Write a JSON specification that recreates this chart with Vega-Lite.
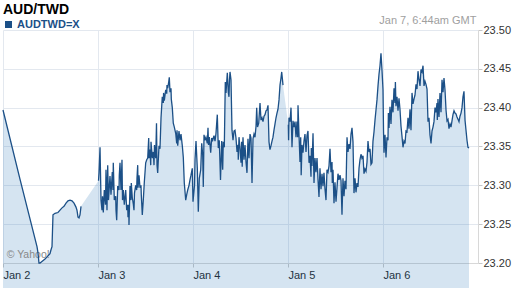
{
"$schema":"https://vega.github.io/schema/vega-lite/v6.json",
"width":475,"height":233,
"autosize":{"type":"none"},
"padding":{"left":3,"top":30,"right":34,"bottom":25},
"background":"white",
"config":{"font":"Liberation Sans","view":{"stroke":null}},
"data":{"values":[
{"h":0,"v":23.397,"s":1},{"h":4.29,"v":23.308,"s":1},{"h":8.59,"v":23.221,"s":1},{"h":8.84,"v":23.213,"s":1},{"h":9.09,"v":23.2,"s":1},{"h":9.35,"v":23.2,"s":1},{"h":9.6,"v":23.201,"s":1},{"h":10.61,"v":23.205,"s":1},{"h":11.87,"v":23.212,"s":1},{"h":12.13,"v":23.217,"s":1},{"h":12.38,"v":23.221,"s":1},{"h":12.63,"v":23.262,"s":1},{"h":13.14,"v":23.264,"s":1},{"h":13.89,"v":23.265,"s":1},{"h":14.4,"v":23.268,"s":1},{"h":14.91,"v":23.271,"s":1},{"h":15.41,"v":23.273,"s":1},{"h":15.92,"v":23.277,"s":1},{"h":16.42,"v":23.28,"s":1},{"h":16.93,"v":23.281,"s":1},{"h":17.43,"v":23.28,"s":1},{"h":17.94,"v":23.277,"s":1},{"h":18.44,"v":23.272,"s":1},{"h":18.69,"v":23.268,"s":1},{"h":18.95,"v":23.259,"s":1},{"h":19.2,"v":23.258,"s":1},{"h":19.45,"v":23.262,"s":1},{"h":19.71,"v":23.273,"s":1},
{"h":24.13,"v":23.306,"s":2},{"h":24.25,"v":23.316,"s":2},{"h":24.51,"v":23.349,"s":2},{"h":24.76,"v":23.281,"s":2},{"h":25.01,"v":23.268,"s":2},{"h":25.14,"v":23.286,"s":2},{"h":25.34,"v":23.265,"s":2},{"h":25.59,"v":23.294,"s":2},{"h":25.89,"v":23.275,"s":2},{"h":26.02,"v":23.32,"s":2},{"h":26.27,"v":23.268,"s":2},{"h":26.45,"v":23.326,"s":2},{"h":26.65,"v":23.281,"s":2},{"h":27.03,"v":23.312,"s":2},{"h":27.28,"v":23.288,"s":2},{"h":27.61,"v":23.317,"s":2},{"h":27.79,"v":23.294,"s":2},{"h":27.86,"v":23.329,"s":2},{"h":28.12,"v":23.281,"s":2},{"h":28.47,"v":23.286,"s":2},{"h":28.55,"v":23.268,"s":2},{"h":28.72,"v":23.255,"s":2},{"h":28.98,"v":23.299,"s":2},{"h":29.31,"v":23.294,"s":2},{"h":29.38,"v":23.313,"s":2},{"h":29.56,"v":23.329,"s":2},{"h":29.81,"v":23.294,"s":2},{"h":30.06,"v":23.333,"s":2},{"h":30.19,"v":23.281,"s":2},{"h":30.39,"v":23.294,"s":2},{"h":30.64,"v":23.275,"s":2},{"h":31.0,"v":23.294,"s":2},{"h":31.25,"v":23.268,"s":2},{"h":31.5,"v":23.275,"s":2},{"h":31.58,"v":23.259,"s":2},{"h":31.76,"v":23.275,"s":2},{"h":31.83,"v":23.249,"s":2},{"h":32.08,"v":23.299,"s":2},{"h":32.34,"v":23.281,"s":2},{"h":32.41,"v":23.303,"s":2},{"h":32.67,"v":23.284,"s":2},{"h":32.92,"v":23.276,"s":2},{"h":33.09,"v":23.268,"s":2},{"h":33.22,"v":23.29,"s":2},{"h":33.52,"v":23.3,"s":2},{"h":33.77,"v":23.294,"s":2},{"h":33.85,"v":23.309,"s":2},{"h":34.03,"v":23.326,"s":2},{"h":34.11,"v":23.297,"s":2},{"h":34.36,"v":23.313,"s":2},{"h":34.61,"v":23.297,"s":2},{"h":34.86,"v":23.3,"s":2},{"h":34.94,"v":23.288,"s":2},{"h":35.19,"v":23.262,"s":2},{"h":35.44,"v":23.281,"s":2},{"h":35.7,"v":23.304,"s":2},{"h":36.05,"v":23.329,"s":2},{"h":36.31,"v":23.333,"s":2},{"h":36.56,"v":23.335,"s":2},{"h":36.81,"v":23.361,"s":2},{"h":36.89,"v":23.335,"s":2},{"h":37.14,"v":23.346,"s":2},{"h":37.32,"v":23.326,"s":2},{"h":37.39,"v":23.356,"s":2},{"h":37.72,"v":23.335,"s":2},{"h":37.97,"v":23.343,"s":2},{"h":38.15,"v":23.326,"s":2},{"h":38.27,"v":23.352,"s":2},{"h":38.58,"v":23.335,"s":2},{"h":38.78,"v":23.38,"s":2},{"h":38.91,"v":23.326,"s":2},{"h":39.08,"v":23.316,"s":2},{"h":39.41,"v":23.351,"s":2},{"h":39.66,"v":23.347,"s":2},{"h":39.92,"v":23.387,"s":2},{"h":40.24,"v":23.414,"s":2},{"h":40.5,"v":23.406,"s":2},{"h":40.57,"v":23.419,"s":2},{"h":40.75,"v":23.409,"s":2},{"h":41.1,"v":23.423,"s":2},{"h":41.36,"v":23.418,"s":2},{"h":41.43,"v":23.429,"s":2},{"h":41.61,"v":23.425,"s":2},{"h":41.86,"v":23.433,"s":2},{"h":42.01,"v":23.439,"s":2},{"h":42.19,"v":23.42,"s":2},{"h":42.44,"v":23.425,"s":2},{"h":42.52,"v":23.411,"s":2},{"h":42.77,"v":23.4,"s":2},{"h":43.02,"v":23.38,"s":2},{"h":43.28,"v":23.375,"s":2},{"h":43.63,"v":23.367,"s":2},{"h":43.88,"v":23.354,"s":2},{"h":43.96,"v":23.371,"s":2},{"h":44.14,"v":23.351,"s":2},{"h":44.46,"v":23.37,"s":2},{"h":44.72,"v":23.358,"s":2},{"h":44.97,"v":23.366,"s":2},{"h":45.3,"v":23.351,"s":2},{"h":45.55,"v":23.336,"s":2},{"h":45.8,"v":23.303,"s":2},{"h":46.16,"v":23.281,"s":2},{"h":46.41,"v":23.288,"s":2},{"h":46.66,"v":23.294,"s":2},{"h":46.99,"v":23.3,"s":2},{"h":47.24,"v":23.307,"s":2},{"h":47.49,"v":23.313,"s":2},{"h":47.82,"v":23.322,"s":2},{"h":48.0,"v":23.279,"s":2},
{"h":48.38,"v":23.3,"s":2},{"h":48.51,"v":23.333,"s":2},{"h":48.76,"v":23.357,"s":2},{"h":49.09,"v":23.322,"s":2},{"h":49.34,"v":23.266,"s":2},{"h":49.59,"v":23.309,"s":2},{"h":49.95,"v":23.32,"s":2},{"h":50.2,"v":23.354,"s":2},{"h":50.45,"v":23.339,"s":2},{"h":50.6,"v":23.298,"s":2},{"h":50.78,"v":23.365,"s":2},{"h":51.03,"v":23.358,"s":2},{"h":51.28,"v":23.362,"s":2},{"h":51.61,"v":23.354,"s":2},{"h":51.79,"v":23.374,"s":2},{"h":51.92,"v":23.352,"s":2},{"h":52.12,"v":23.362,"s":2},{"h":52.47,"v":23.342,"s":2},{"h":52.72,"v":23.361,"s":2},{"h":52.98,"v":23.358,"s":2},{"h":53.31,"v":23.364,"s":2},{"h":53.56,"v":23.357,"s":2},{"h":53.81,"v":23.367,"s":2},{"h":54.14,"v":23.391,"s":2},{"h":54.39,"v":23.348,"s":2},{"h":54.64,"v":23.358,"s":2},{"h":54.95,"v":23.307,"s":2},{"h":55.25,"v":23.357,"s":2},{"h":55.5,"v":23.32,"s":2},{"h":55.65,"v":23.356,"s":2},{"h":55.91,"v":23.349,"s":2},{"h":56.16,"v":23.433,"s":2},{"h":56.34,"v":23.419,"s":2},{"h":56.67,"v":23.445,"s":2},{"h":56.92,"v":23.42,"s":2},{"h":57.09,"v":23.414,"s":2},{"h":57.22,"v":23.436,"s":2},{"h":57.35,"v":23.446,"s":2},{"h":57.6,"v":23.436,"s":2},{"h":57.85,"v":23.371,"s":2},{"h":58.11,"v":23.358,"s":2},{"h":58.36,"v":23.37,"s":2},{"h":58.61,"v":23.371,"s":2},{"h":58.86,"v":23.361,"s":2},{"h":59.12,"v":23.343,"s":2},{"h":59.37,"v":23.352,"s":2},{"h":59.44,"v":23.333,"s":2},{"h":59.62,"v":23.362,"s":2},{"h":59.87,"v":23.348,"s":2},{"h":60.13,"v":23.329,"s":2},{"h":60.3,"v":23.356,"s":2},{"h":60.43,"v":23.324,"s":2},{"h":60.63,"v":23.362,"s":2},{"h":60.88,"v":23.333,"s":2},{"h":61.14,"v":23.352,"s":2},{"h":61.39,"v":23.33,"s":2},{"h":61.64,"v":23.316,"s":2},{"h":61.89,"v":23.36,"s":2},{"h":62.15,"v":23.335,"s":2},{"h":62.4,"v":23.366,"s":2},{"h":62.65,"v":23.361,"s":2},{"h":62.91,"v":23.303,"s":2},{"h":63.16,"v":23.36,"s":2},{"h":63.41,"v":23.366,"s":2},{"h":63.66,"v":23.362,"s":2},{"h":63.92,"v":23.376,"s":2},{"h":64.09,"v":23.4,"s":2},{"h":64.3,"v":23.375,"s":2},{"h":64.6,"v":23.38,"s":2},{"h":64.93,"v":23.406,"s":2},{"h":65.18,"v":23.384,"s":2},{"h":65.43,"v":23.387,"s":2},{"h":65.68,"v":23.382,"s":2},{"h":65.94,"v":23.389,"s":2},{"h":66.19,"v":23.391,"s":2},{"h":66.44,"v":23.396,"s":2},{"h":66.69,"v":23.397,"s":2},{"h":66.95,"v":23.403,"s":2},{"h":67.2,"v":23.356,"s":2},{"h":67.45,"v":23.346,"s":2},{"h":67.71,"v":23.351,"s":2},{"h":67.96,"v":23.357,"s":2},{"h":68.21,"v":23.362,"s":2},{"h":68.46,"v":23.371,"s":2},{"h":68.72,"v":23.379,"s":2},{"h":68.97,"v":23.387,"s":2},{"h":69.22,"v":23.393,"s":2},{"h":69.47,"v":23.398,"s":2},{"h":69.73,"v":23.41,"s":2},{"h":69.98,"v":23.429,"s":2},{"h":70.23,"v":23.438,"s":2},{"h":70.41,"v":23.446,"s":2},{"h":70.74,"v":23.429,"s":2},
{"h":72.08,"v":23.378,"s":3},{"h":72.15,"v":23.358,"s":3},{"h":72.25,"v":23.387,"s":3},{"h":72.51,"v":23.382,"s":3},{"h":72.76,"v":23.4,"s":3},{"h":73.01,"v":23.349,"s":3},{"h":73.26,"v":23.383,"s":3},{"h":73.52,"v":23.375,"s":3},{"h":73.77,"v":23.382,"s":3},{"h":74.02,"v":23.362,"s":3},{"h":74.27,"v":23.382,"s":3},{"h":74.45,"v":23.362,"s":3},{"h":74.53,"v":23.403,"s":3},{"h":74.78,"v":23.365,"s":3},{"h":75.03,"v":23.33,"s":3},{"h":75.21,"v":23.362,"s":3},{"h":75.33,"v":23.313,"s":3},{"h":75.54,"v":23.352,"s":3},{"h":75.79,"v":23.342,"s":3},{"h":76.04,"v":23.357,"s":3},{"h":76.29,"v":23.366,"s":3},{"h":76.55,"v":23.343,"s":3},{"h":76.8,"v":23.364,"s":3},{"h":77.05,"v":23.37,"s":3},{"h":77.31,"v":23.329,"s":3},{"h":77.56,"v":23.338,"s":3},{"h":77.81,"v":23.311,"s":3},{"h":77.89,"v":23.348,"s":3},{"h":78.06,"v":23.325,"s":3},{"h":78.32,"v":23.367,"s":3},{"h":78.57,"v":23.303,"s":3},{"h":78.82,"v":23.335,"s":3},{"h":79.07,"v":23.317,"s":3},{"h":79.33,"v":23.335,"s":3},{"h":79.58,"v":23.308,"s":3},{"h":79.83,"v":23.285,"s":3},{"h":80.08,"v":23.322,"s":3},{"h":80.34,"v":23.295,"s":3},{"h":80.59,"v":23.315,"s":3},{"h":80.84,"v":23.299,"s":3},{"h":81.09,"v":23.316,"s":3},{"h":81.35,"v":23.295,"s":3},{"h":81.6,"v":23.281,"s":3},{"h":81.85,"v":23.32,"s":3},{"h":82.11,"v":23.317,"s":3},{"h":82.36,"v":23.325,"s":3},{"h":82.61,"v":23.347,"s":3},{"h":82.86,"v":23.317,"s":3},{"h":83.12,"v":23.33,"s":3},{"h":83.19,"v":23.303,"s":3},{"h":83.37,"v":23.32,"s":3},{"h":83.62,"v":23.277,"s":3},{"h":83.87,"v":23.304,"s":3},{"h":84.13,"v":23.279,"s":3},{"h":84.38,"v":23.297,"s":3},{"h":84.63,"v":23.315,"s":3},{"h":84.88,"v":23.307,"s":3},{"h":85.14,"v":23.313,"s":3},{"h":85.39,"v":23.306,"s":3},{"h":85.64,"v":23.262,"s":3},{"h":85.89,"v":23.309,"s":3},{"h":86.15,"v":23.286,"s":3},{"h":86.4,"v":23.306,"s":3},{"h":86.65,"v":23.295,"s":3},{"h":86.91,"v":23.362,"s":3},{"h":87.16,"v":23.343,"s":3},{"h":87.41,"v":23.353,"s":3},{"h":87.66,"v":23.347,"s":3},{"h":87.92,"v":23.366,"s":3},{"h":88.17,"v":23.374,"s":3},{"h":88.42,"v":23.356,"s":3},{"h":88.67,"v":23.29,"s":3},{"h":88.93,"v":23.309,"s":3},{"h":89.18,"v":23.291,"s":3},{"h":89.43,"v":23.303,"s":3},{"h":89.68,"v":23.298,"s":3},{"h":89.94,"v":23.322,"s":3},{"h":90.19,"v":23.333,"s":3},{"h":90.44,"v":23.34,"s":3},{"h":90.69,"v":23.335,"s":3},{"h":90.95,"v":23.338,"s":3},{"h":91.2,"v":23.315,"s":3},{"h":91.45,"v":23.321,"s":3},{"h":91.71,"v":23.318,"s":3},{"h":91.96,"v":23.33,"s":3},{"h":92.21,"v":23.357,"s":3},{"h":92.46,"v":23.343,"s":3},{"h":92.72,"v":23.347,"s":3},{"h":92.97,"v":23.327,"s":3},{"h":93.22,"v":23.329,"s":3},{"h":93.47,"v":23.357,"s":3},{"h":93.73,"v":23.369,"s":3},{"h":93.98,"v":23.384,"s":3},{"h":94.23,"v":23.397,"s":3},{"h":94.48,"v":23.41,"s":3},{"h":94.74,"v":23.428,"s":3},{"h":94.99,"v":23.443,"s":3},{"h":95.24,"v":23.454,"s":3},{"h":95.49,"v":23.47,"s":3},{"h":95.75,"v":23.448,"s":3},
{"h":96.0,"v":23.423,"s":3},{"h":96.13,"v":23.371,"s":3},{"h":96.25,"v":23.342,"s":3},{"h":96.51,"v":23.365,"s":3},{"h":96.76,"v":23.336,"s":3},{"h":97.01,"v":23.362,"s":3},{"h":97.26,"v":23.358,"s":3},{"h":97.36,"v":23.393,"s":3},{"h":97.52,"v":23.374,"s":3},{"h":97.77,"v":23.401,"s":3},{"h":98.02,"v":23.379,"s":3},{"h":98.27,"v":23.41,"s":3},{"h":98.53,"v":23.394,"s":3},{"h":98.78,"v":23.425,"s":3},{"h":99.03,"v":23.406,"s":3},{"h":99.13,"v":23.433,"s":3},{"h":99.28,"v":23.402,"s":3},{"h":99.54,"v":23.414,"s":3},{"h":99.79,"v":23.396,"s":3},{"h":100.04,"v":23.412,"s":3},{"h":100.29,"v":23.398,"s":3},{"h":100.55,"v":23.376,"s":3},{"h":100.8,"v":23.363,"s":3},{"h":101.05,"v":23.349,"s":3},{"h":101.31,"v":23.357,"s":3},{"h":101.56,"v":23.354,"s":3},{"h":101.81,"v":23.37,"s":3},{"h":102.06,"v":23.369,"s":3},{"h":102.32,"v":23.387,"s":3},{"h":102.57,"v":23.373,"s":3},{"h":102.82,"v":23.398,"s":3},{"h":103.07,"v":23.371,"s":3},{"h":103.33,"v":23.419,"s":3},{"h":103.58,"v":23.405,"s":3},{"h":103.83,"v":23.411,"s":3},{"h":104.08,"v":23.416,"s":3},{"h":104.34,"v":23.43,"s":3},{"h":104.59,"v":23.424,"s":3},{"h":104.84,"v":23.447,"s":3},{"h":105.09,"v":23.436,"s":3},{"h":105.35,"v":23.428,"s":3},{"h":105.6,"v":23.449,"s":3},{"h":105.85,"v":23.446,"s":3},{"h":106.11,"v":23.454,"s":3},{"h":106.36,"v":23.428,"s":3},{"h":106.61,"v":23.434,"s":3},{"h":106.86,"v":23.43,"s":3},{"h":107.12,"v":23.424,"s":3},{"h":107.37,"v":23.382,"s":3},{"h":107.62,"v":23.387,"s":3},{"h":107.87,"v":23.365,"s":3},{"h":108.13,"v":23.354,"s":3},{"h":108.38,"v":23.37,"s":3},{"h":108.63,"v":23.375,"s":3},{"h":108.88,"v":23.382,"s":3},{"h":109.14,"v":23.4,"s":3},{"h":109.39,"v":23.394,"s":3},{"h":109.64,"v":23.406,"s":3},{"h":109.72,"v":23.384,"s":3},{"h":109.89,"v":23.411,"s":3},{"h":110.15,"v":23.388,"s":3},{"h":110.4,"v":23.419,"s":3},{"h":110.65,"v":23.394,"s":3},{"h":110.91,"v":23.436,"s":3},{"h":111.16,"v":23.42,"s":3},{"h":111.41,"v":23.438,"s":3},{"h":111.66,"v":23.423,"s":3},{"h":111.92,"v":23.397,"s":3},{"h":112.17,"v":23.383,"s":3},{"h":112.42,"v":23.385,"s":3},{"h":112.67,"v":23.373,"s":3},{"h":112.93,"v":23.379,"s":3},{"h":113.18,"v":23.375,"s":3},{"h":113.43,"v":23.383,"s":3},{"h":113.68,"v":23.391,"s":3},{"h":113.94,"v":23.396,"s":3},{"h":114.19,"v":23.393,"s":3},{"h":114.44,"v":23.392,"s":3},{"h":114.69,"v":23.388,"s":3},{"h":114.95,"v":23.385,"s":3},{"h":115.2,"v":23.382,"s":3},{"h":115.45,"v":23.389,"s":3},{"h":115.71,"v":23.393,"s":3},{"h":115.96,"v":23.4,"s":3},{"h":116.21,"v":23.414,"s":3},{"h":116.46,"v":23.421,"s":3},{"h":116.72,"v":23.384,"s":3},{"h":116.97,"v":23.371,"s":3},{"h":117.22,"v":23.358,"s":3},{"h":117.47,"v":23.349,"s":3},{"h":117.73,"v":23.348,"s":3}
]},
"encoding":{
"x":{"field":"h","type":"quantitative","scale":{"domain":[0,120],"nice":false,"zero":false},
"axis":{"title":null,"values":[0,24,48,72,96],"labelExpr":"'Jan  ' + (2 + datum.value / 24)","labelAlign":"left","labelFlush":false,"labelFontSize":11,"labelColor":"#222","labelPadding":2,"tickSize":4,"tickColor":"#c8c8c8","domainColor":"#d8d8d8","gridColor":"#e3e8ef"}},
"y":{"field":"v","type":"quantitative","scale":{"domain":[23.2,23.5],"nice":false,"zero":false},
"axis":{"orient":"right","values":[23.2,23.25,23.3,23.35,23.4,23.45,23.5],"format":".2f","labelFontSize":11,"labelColor":"#333","labelPadding":1,"tickSize":4,"tickColor":"#c8c8c8","domainColor":"#d8d8d8","gridColor":"#e3e8ef",
"title":"Jan 7, 6:44am GMT","titleAngle":0,"titleX":-2,"titleY":-10,"titleAlign":"right","titleBaseline":"middle","titleFontSize":11,"titleFontWeight":"normal","titleColor":"#a0a0a0"}}
},
"layer":[
{"mark":{"type":"area","color":"#2f7ab9","fillOpacity":0.2}},
{"data":{"values":[{"label":"© Yahoo!","h":0.93,"v":23.21}]},
 "mark":{"type":"text","align":"left","baseline":"middle","fontSize":10.5,"color":"#888"},
 "encoding":{"text":{"field":"label"}}},
{"mark":{"type":"line","strokeWidth":1.3},
 "encoding":{"detail":{"field":"s"},
  "color":{"datum":"AUDTWD=X","scale":{"range":["#1c5087"]},
   "legend":{"orient":"none","legendX":0,"legendY":-27,"title":"AUD/TWD","titleFontSize":14,"titleFontWeight":"bold","titleColor":"#000","titlePadding":2,"labelFontSize":11,"labelFontWeight":"bold","labelColor":"#1c5087","labelOffset":3,"symbolType":"square","symbolSize":49,"padding":0,
    "encode":{"symbols":{"update":{"fill":{"value":"#1c5087"},"stroke":{"value":"#1c5087"},"strokeWidth":{"value":0},"opacity":{"value":1}}}}}}}}
]
}
